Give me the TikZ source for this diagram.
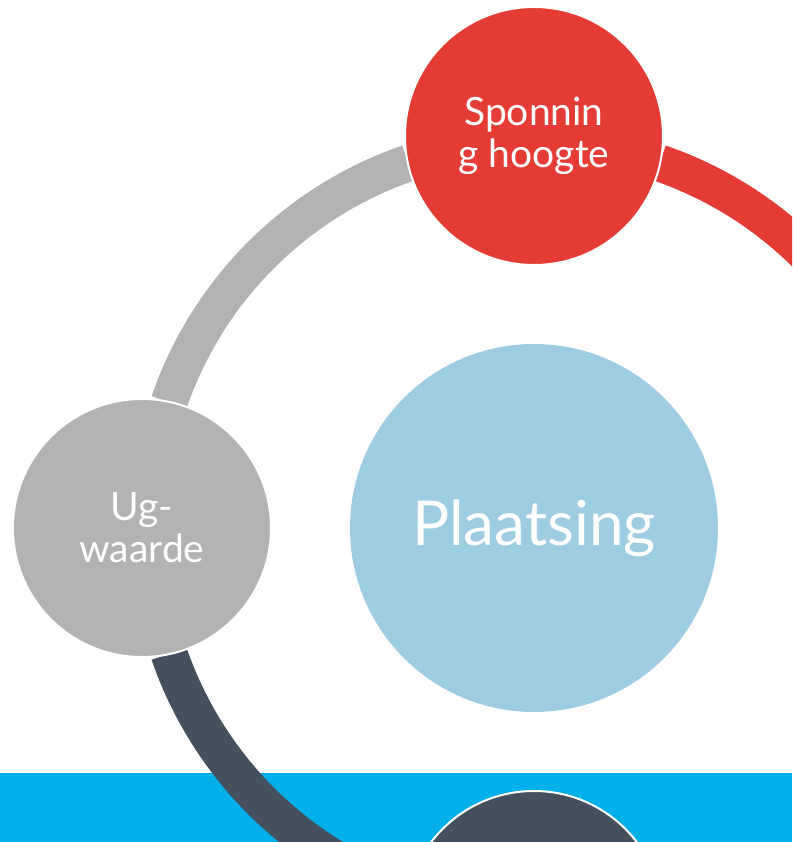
\documentclass[tikz,border=0pt]{standalone}
\usepackage{fontspec}
\setmainfont{Lato}
\usepackage{tikz}
\usetikzlibrary{positioning}
\definecolor{sponred}{RGB}{229,59,53}
\definecolor{uggray}{RGB}{178,178,178}
\definecolor{slatedark}{RGB}{68,80,94}
\definecolor{centerblue}{RGB}{158,204,227}
\definecolor{bandcyan}{RGB}{0,176,234}
\tikzset{
	bubble/.style={
		circle,
		draw=white,
		line width=2pt,
		minimum size=258pt,
		inner sep=0pt,
		text=white,
		align=center,
		font=\fontsize{39}{42}\selectfont
	},
	ringarc/.style={
		line width=37pt,
		line cap=butt
	}
}

\begin{document}
\begin{tikzpicture}[x=1pt,y=1pt]
	
	% Frame
	\clip (-534,-314) rectangle (258,528);
	\useasboundingbox (-534,-314) rectangle (258,528);
	
	% Bottom band
	\fill[bandcyan] (-534,-314) rectangle (258,-245);
	
	% Ring segments
	\draw[ringarc,draw=sponred] (71:386) arc[start angle=71,end angle=19,radius=386];
	\draw[ringarc,draw=uggray] (161:386) arc[start angle=161,end angle=109,radius=386];
	\draw[ringarc,draw=slatedark] (251:386) arc[start angle=251,end angle=199,radius=386];
	
	% Outer circles
	\node[bubble,fill=sponred] (spon) at (0,392) {Sponnin\\g hoogte};
	\node[bubble,fill=uggray] (ug) at (-392,0) {Ug-\\waarde};
	\node[bubble,fill=slatedark] (bottom) at (0,-392) {};
	
	% Center
	\node[circle,fill=centerblue,minimum size=368pt,inner sep=0pt,text=white,
	font=\fontsize{62}{66}\selectfont] (plaats) at (0,0) {Plaatsing};
	
\end{tikzpicture}
\end{document}
